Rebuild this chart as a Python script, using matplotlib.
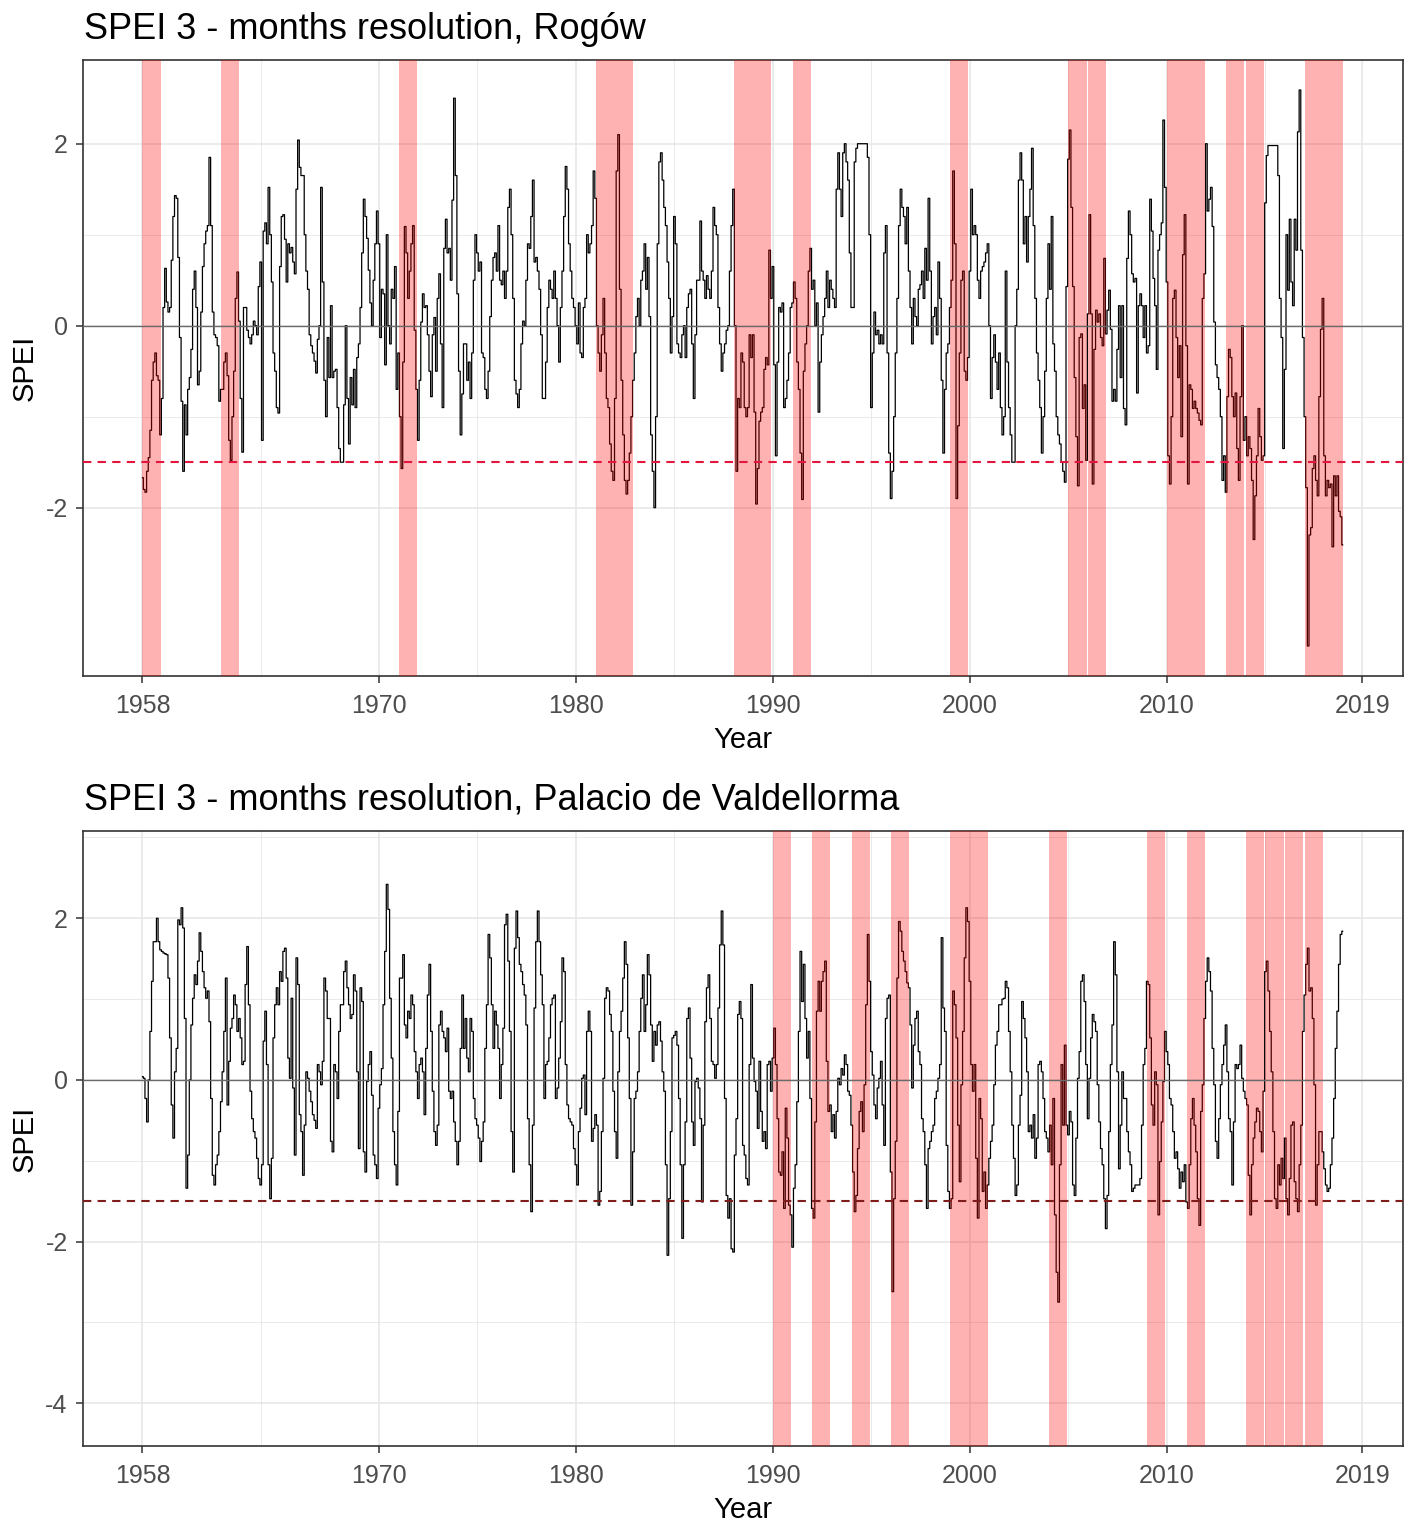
import numpy as np
import matplotlib
matplotlib.use("Agg")
import matplotlib.pyplot as plt

# monthly SPEI-3 values, Jan 1958 .. Dec 2018
start_year = 1958

rogow_spei = [
    -1.67, -1.8, -1.83, -1.6, -1.45, -1.15, -0.6, -0.4, -0.3, -0.55, -0.6, -1.2,
    -0.8, 0.2, 0.63, 0.26, 0.15, 0.2, 0.72, 1.2, 1.43, 1.4, 0.75, -0.13,
    -0.83, -1.6, -0.87, -1.2, -0.7, -0.57, -0.26, 0.4, 0.6, 0.2, -0.65, -0.5,
    0.15, 0.65, 0.9, 1.04, 1.1, 1.85, 1.1, 0.15, -0.1, -0.13, -0.22, -0.83,
    -0.7, -0.7, -0.4, -0.3, -0.55, -1.26, -1.48, -1.0, -0.5, 0.3, 0.59, 0.05,
    -0.8, -1.39, 0.2, 0.2, -0.05, -0.13, -0.2, -0.1, 0.05, 0.0, -0.1, 0.43,
    0.7, -1.26, 1.04, 1.13, 0.9, 1.52, 1.0, 0.48, -0.3, -0.5, -0.9, -0.96,
    0.65, 1.2, 1.22, 0.95, 0.48, 0.9, 0.8, 0.86, 0.7, 0.57, 1.5, 2.04,
    1.74, 1.65, 1.65, 1.0, 0.6, 0.4, -0.1, -0.22, -0.3, -0.39, -0.52, -0.15,
    0.0, 1.52, 0.48, -0.6, -1.0, -0.13, -0.57, 0.22, -0.57, -0.5, -0.48, -0.9,
    -1.35, -1.5, -1.5, -0.87, 0.0, -0.8, -1.3, -0.57, -0.87, -0.48, -0.9, -0.35,
    -0.2, 0.2, 0.8, 1.39, 1.2, 0.96, 0.61, 0.25, 0.0, 0.5, 0.9, 1.26,
    0.9, -0.13, 0.4, 0.35, -0.43, 1.0, 0.0, -0.2, 0.4, 0.3, 0.65, -0.7,
    -0.3, -1.0, -1.57, -0.4, 1.09, 0.8, 0.3, 0.6, 0.9, 1.1, -0.05, -0.7,
    -1.26, -0.6, 0.04, 0.35, 0.2, 0.22, -0.1, -0.5, -0.78, -0.1, 0.09, -0.5,
    0.3, 0.57, -0.2, -0.9, 0.85, 1.17, 0.8, 0.85, 0.5, 1.38, 2.5, 1.65,
    0.35, -0.5, -1.2, -0.75, -0.2, -0.2, -0.6, -0.4, -0.8, -0.3, 0.5, 1.0,
    0.8, 0.6, 0.7, -0.3, -0.35, -0.7, -0.8, -0.5, 0.1, 0.5, 0.75, 0.8,
    0.6, 1.1, 0.5, 0.45, 0.6, 0.3, 0.6, 1.3, 1.5, 1.0, 0.3, -0.6,
    -0.75, -0.9, -0.7, -0.2, 0.05, 0.0, 0.5, 0.9, 0.85, 1.2, 1.6, 0.7,
    0.75, 0.6, 0.4, -0.1, -0.8, -0.8, -0.4, 0.2, 0.5, 0.4, 0.3, 0.6, 0.3,
    0.0, -0.4, 0.2, 0.6, 1.2, 1.75, 1.5, 0.9, 0.6, 0.3, 0.2, 0.0,
    -0.2, 0.25, -0.3, -0.35, 0.2, 0.3, 1.0, 0.8, 0.9, 1.1, 1.7, 1.4,
    0.0, -0.3, -0.5, -0.1, 0.3, -0.3, -0.8, -0.9, -1.3, -1.6, -1.7, -0.8,
    1.7, 2.1, 0.4, -0.6, -1.2, -1.7, -1.85, -1.7, -1.4, -1.0, -0.6, -0.3,
    0.1, 0.3, 0.0, 0.5, 0.6, 0.9, 0.4, 0.75, 0.1, -1.2, -1.6, -2.0,
    -1.0, 0.9, 1.8, 1.9, 1.6, 1.3, 1.1, 0.7, 0.3, -0.3, 0.1, 1.2,
    0.9, -0.2, -0.3, -0.35, -0.1, 0.0, -0.35, 0.2, 0.35, 0.4, -0.2, -0.8, -0.1,
    0.5, 0.5, 1.15, 0.6, 0.5, 0.3, 0.55, 0.4, 0.3, 0.6, 1.3, 1.1,
    1.0, 0.2, -0.2, -0.5, -0.3, -0.2, -0.05, 0.0, 0.6, 1.1, 1.5, 0.0,
    -1.6, -0.8, -0.9, -0.3, -0.4, -0.9, -1.0, -0.9,
    -0.1, -0.35, -0.1, -0.95, -1.96, -1.57, -1.05, -0.95, -0.9, -0.48, -0.35, -0.43,
    0.83, 0.3, 0.65, -0.43, -1.43, -0.4, 0.2, 0.15, 0.25, -0.9, -0.8, -0.6,
    -0.3, 0.2, 0.25, 0.48, 0.3, -0.4, -0.7, -1.4, -1.91, -0.5, -0.2, 0.0,
    0.6, 0.85, 0.4, 0.5, 0.0, 0.25, -0.95, -0.4, -0.1, 0.1, 0.3, 0.6,
    0.2, 0.5, 0.4, 0.3, 0.2, 1.5, 1.9, 1.5, 1.2, 1.9, 2.0, 1.8,
    1.6, 0.8, 0.2, 0.2, 1.8, 1.95, 2.0, 2.0, 2.0, 2.0, 2.0, 2.0, 1.85,
    1.0, -0.9, -0.3, 0.15, -0.1, -0.05, -0.2, -0.1, -0.2, 0.8, 1.1, -0.3,
    -1.4, -1.9, -1.6, -1.0, -0.3, 0.3, 1.1, 1.5, 1.3, 1.2, 0.9, 1.3,
    0.6, 0.2, -0.2, 0.3, 0.1, 0.0, 0.4, 0.45, 0.6, 0.3, 0.85, 0.5,
    1.4, 0.6, -0.2, 0.1, 0.2, -0.1, 0.7, 0.3, -0.6, -1.4, -0.7, -0.3,
    -0.2, 0.2, 0.5, 1.7, 0.9, -1.9, -1.1, -0.3, 0.5, 0.6, -0.5, -0.6,
    -0.35, 0.6, 1.5, 1.0, 1.1, 1.0, 0.5, 0.3, 0.6, 0.65, 0.7, 0.8, 0.9,
    0.0, -0.8, -0.35, -0.1, -0.4, -0.7, -0.3, -0.9, -1.2, -1.0, 0.6, -0.4,
    -0.9, -1.2, -1.5, -1.5, 0.0, 0.4, 1.6, 1.9, 1.6, 0.9, 1.2, 0.7,
    1.2, 1.5, 1.95, 1.1, 0.3, -0.3, -0.6, -0.9, -1.4, -1.0, -0.5, 0.3,
    0.9, 0.4, 1.2, -0.2, -0.5, -1.0, -1.2, -1.3, -1.5, -1.6,
    -1.72, 0.43, 1.83, 2.15, 1.30, 0.43, -0.57, -1.22, -1.76, -0.13, -0.09, -0.91,
    -0.65, -1.48, 0.13, 1.22, 0.13, -1.74, -0.26, 0.17, 0.04, 0.13, -0.13, -0.22,
    0.74, -0.09, 0.17, 0.39, -0.04, -0.83, -0.70, -0.83, -0.26, 0.22, -0.57, 0.22,
    -0.91, -1.09, 0.74, 1.26, 1.00, 0.57, 0.48, 0.52, -0.74, 0.22, 0.35, 0.22,
    -0.13, 0.22, -0.30, -0.22, 1.39, 1.04, 0.52, 0.22, -0.48, 0.83, 1.00, 1.13,
    2.26, 1.52, 0.48, -1.43, -1.74, -1.00, 0.30, 0.39, -0.13, -0.57, -0.22, -1.22,
    0.78, 1.22, -0.22, -1.74, -0.65, -0.70, -0.91, -0.83, -0.91, -0.96, -1.04, -1.09,
    0.30, 0.57, 2.00, 1.26, 1.39, 1.52, 1.09, 0.04, -0.43, -0.57, -0.70, -1.00,
    -1.70, -1.43, -1.83, -0.78, -0.26, -0.35, -0.78, -1.00, -0.74, -1.35, -1.70, -0.78,
    0.00, -1.26, -1.00, -1.43, -1.22, -1.35, -1.70, -2.35, -1.87, -1.43, -0.91, -1.22,
    -1.48, -1.43, 1.35, 1.87, 1.98, 1.98, 1.98, 1.98, 1.98, 1.98, 1.65, 0.30, -0.13,
    -1.35, -0.48, 1.00, 0.39, 1.17, 0.48, 0.22, 1.17, 0.83, 2.13, 2.59, 0.83,
    -0.13, -1.00, -1.78, -3.52, -2.30, -2.22, -1.57, -1.43, -1.70, -1.87, -0.78, -0.04,
    0.30, -1.43, -1.87, -1.70, -1.78, -1.74, -2.43, -1.65, -1.87, -1.65, -2.04, -2.10, -2.41,
]

valdellorma_spei = [
    0.04, 0.02, -0.23, -0.52, 0.00, 0.60, 1.22, 1.71, 1.71, 2.00, 1.71, 1.61,
    1.59, 1.57, 1.56, 1.55, 1.26, 0.52, -0.31, -0.72, 0.10, 0.39, 1.98, 1.92,
    2.13, 1.88, 0.76, -1.34, -0.93, 0.00, 0.68, 1.01, 1.30, 1.18, 1.47, 1.82,
    1.59, 1.34, 1.14, 1.01, 1.10, 0.72, -0.23, -1.18, -1.30, -1.05, -0.93, -0.64,
    -0.27, 0.10, 0.60, 1.26, -0.31, 0.23, 0.64, 0.76, 1.05, 0.93, 0.60, 0.76,
    0.52, 0.19, 0.23, 1.18, 1.65, 0.93, -0.14, -0.48, -0.64, -0.72, -0.97, -1.22,
    -1.30, -1.05, 0.48, 0.85, 0.19, -1.05, -1.47, -0.97, 0.52, 0.93, 1.14, 0.93,
    1.34, 1.22, 1.59, 1.63, 1.26, 0.27, 0.02, 1.01, -0.10, -0.93, 1.51, 1.18,
    -0.43, -0.64, -1.18, -0.56, 0.10, 0.02, -0.14, -0.27, -0.43, -0.50, -0.60, 0.19,
    0.10, -0.06, 0.23, 1.26, 1.10, 0.76, 0.76, -0.76, -0.89, 0.19, 0.10, -0.23,
    0.60, 0.93, 0.93, 1.34, 1.47, 1.14, 0.93, 0.76, 0.81, 1.30, 1.10, 0.10,
    -0.85, 1.14, 0.97, -0.89, -1.14, -0.02, 0.19, 0.35, -0.19, -0.93, -1.05, -1.22,
    -0.35, -0.06, 0.14, 0.93, 1.59, 2.42, 2.11, 1.01, 0.27, -0.64, -1.05, -1.30,
    -0.39, 1.26, 1.26, 1.55, 0.68, 0.52, 0.85, 0.76, 1.05, 0.93, 0.35, 0.10,
    -0.23, 0.19, 0.27, 0.10, -0.43, 0.39, 1.05, 1.43, 0.60, -0.14, -0.64, -0.81,
    -0.56, 0.68, 0.85, 0.60, 0.52, 0.35,
    0.64, -0.14, -0.23, -0.14, -0.52, -0.76, -1.05, -0.76, 0.39, 1.05, 0.39, 0.76,
    0.27, 0.10, 0.76, 0.60, -0.23, -0.48, -0.56, -0.72, -1.01, -0.76, -0.52, 0.39,
    0.93, 1.80, 1.51, 0.93, 0.39, 0.85, 0.68, 0.39, -0.23, 0.19, 0.64, 1.92,
    2.05, 1.47, 0.60, -0.64, -1.14, 1.63, 2.09, 1.76, 1.43, 1.34, 1.18, 1.05,
    0.68, -0.48, -1.05, -1.63, -0.56, 0.89, 1.71, 2.09, 1.71, 1.30, 0.93, -0.23, 0.19,
    0.23, 0.52, 0.93, 1.01, 1.05, -0.23, -0.10, 0.27, 0.72, 1.51, 1.34, 0.19,
    -0.31, -0.48, -0.52, -0.56, -0.85, -1.05, -1.30, -0.64, -0.35, 0.02, 0.06, -0.43,
    0.60, 0.85, 0.60, -0.76, -0.60, -0.43, -0.56, -1.55, -1.38, -0.64, 0.02, 1.01,
    1.14, 1.10, 0.81, 0.60, -0.14, -0.64, -0.97, 0.10, 0.60, 0.85, 1.26, 1.71,
    1.43, 0.52, -0.23, -1.55, -0.89, -0.23, -0.14, 0.10, 0.60, 1.01, 1.30, 0.60,
    0.93, 1.55, 1.30, 0.68, 0.23, 0.60, 0.43, 0.68, 0.72, 0.48, 0.10, -0.14,
    -1.05, -2.17, -1.47, -0.64, 0.52, 0.55, 0.60, 0.43, -0.23, -1.05, -1.96, -1.05, -0.52,
    0.76, 0.89, 0.27, -0.52, -0.81, -0.02, 0.02, -0.10, -0.48, -1.51, -0.56, 0.72,
    1.14, 1.30, 0.76, 0.23, 0.19, 0.02, 0.19, 0.89, 1.67, 2.09, 1.67, -0.23,
    -1.43, -1.71, -1.47, -2.09, -2.13, -0.93, -0.48, 0.81, 0.97, 0.76, -0.81, -0.93,
    -1.22, -1.30, 0.19, 1.18, 0.27, -0.02,
    -0.14, -0.60, 0.23, -0.39, -0.76, -0.64, -0.85, 0.19, 0.23, -0.14, 0.27, 0.64,
    0.19, -0.48, -1.14, -1.18, -0.89, -1.59, -0.35, -0.72, -1.55, -1.67, -2.07, -1.34,
    -1.05, -0.27, 0.60, 1.59, 0.97, 1.43, 0.76, 0.27, 0.60, -0.23, -1.59, -1.71,
    -0.52, 0.85, 1.22, 0.85, 1.22, 1.34, 1.47, 0.23, -0.39, -0.31, -0.64, -0.43,
    -0.72, -0.39, 0.02, -0.06, 0.14, 0.06, 0.31, 0.19, -0.14, -0.19, -0.56, -1.14,
    -1.63, -1.43, -0.85, -0.39, -0.27, -0.64, -0.06, 0.93, 1.80, 1.22, 0.35, 0.06,
    -0.31, -0.48, -0.10, 0.02, 0.23, -0.31, -0.81, 0.76, 1.01, 1.05, -1.14, -2.62,
    -1.47, -0.76, 1.26, 1.96, 1.84, 1.59, 1.47, 1.34, 1.20, 1.14, 0.68, -0.10, 0.43,
    0.76, 0.85, 0.35, 0.19, -0.48, -0.64, -1.05, -1.59, -0.85, -0.76, -0.64, -0.56,
    -0.23, -0.14, 0.02, 0.19, 1.76, 0.89, 0.60, -0.81, -1.38, -1.59, -1.47, 1.10,
    0.93, 0.52, -0.56, -1.26, -0.06, 0.60, 1.51, 2.13, 1.96, 1.22, 0.19, -0.14,
    0.19, -0.97, -1.71, -0.23, -0.48, -1.38, -1.14, -1.59, -1.30, -0.97, -0.76, -0.56,
    -0.06, 0.43, 0.60, 0.93, 0.93, 1.00, 1.01, 1.22, 1.14, 0.60, 0.10, -0.56, -0.97,
    -1.43, -1.30, -0.56, -0.19, 0.97, 0.76, 0.52, 0.10, -0.64, -0.56, -0.72, -0.43,
    -0.97, -0.72, 0.19, 0.23, 0.10, -0.23, -0.64, -0.72, -0.89, -0.56, -1.05, -0.23,
    -1.67, -2.38, -2.75, -1.05, 0.19, -0.56,
    0.43, -0.56, -0.68, -0.39, -0.52, -1.30, -1.43, -0.72, 0.02, 0.35, 1.22, 1.30,
    0.97, 0.19, -0.48, 0.02, 0.52, 0.81, 0.72, 0.60, -0.06, -0.52, -0.85, -1.05,
    -1.47, -1.84, -1.43, -0.64, 0.19, 0.68, 1.71, 1.30, 0.10, -1.10, -0.56, 0.10,
    -0.23, -0.23, -0.64, -0.89, -1.05, -1.38, -1.34, -1.30, -1.30, -1.30, -1.22, -0.56, 0.19,
    0.39, 1.22, 1.18, 0.52, -0.31, -0.56, 0.10, -0.06, -1.67, -1.01, -0.52, -0.02,
    0.60, 0.35, 0.19, -0.23, -0.31, -0.64, -0.97, -0.89, -1.10, -1.34, -1.14, -1.26,
    -1.05, -1.51, -1.59, -1.05, -0.48, -0.23, -0.56, -0.89, -1.47, -1.80, -0.39, -0.06,
    0.76, 1.22, 1.51, 1.34, 1.10, 0.39, -0.06, -0.76, -0.97, -0.48, -0.06, 0.19,
    0.43, 0.68, 0.10, -0.48, -0.64, -1.30, -0.52, 0.19, 0.14, 0.19, 0.43, 0.02,
    -0.14, -0.23, -0.31, -1.18, -1.67, -1.05, -0.72, -0.52, -0.35, -0.39, -0.64, -0.89,
    -0.14, 1.34, 1.47, 1.10, 0.60, 0.10, -0.64, -1.47, -1.59, -1.05, -1.30, -0.97,
    -1.22, -0.72, -1.47, -1.67, -1.22, -0.56, -0.52, -1.26, -1.47, -1.63, -1.05, -0.56,
    0.60, 1.05, 1.43, 1.63, 1.10, 1.14, 0.76, -0.06, -1.55, -1.05, -0.64, -0.64,
    -0.89, -1.10, -1.30, -1.38, -1.34, -1.05, -0.72, -0.23, 0.39, 0.85, 1.43, 1.80, 1.84,
]

# drought periods (first year, last year), shaded Jan..Dec
rogow_droughts = [(1958, 1958), (1962, 1962), (1971, 1971), (1981, 1982),
                  (1988, 1989), (1991, 1991), (1999, 1999), (2005, 2005),
                  (2006, 2006), (2010, 2011), (2013, 2013), (2014, 2014),
                  (2017, 2018)]
valdellorma_droughts = [(1990, 1990), (1992, 1992), (1994, 1994), (1996, 1996),
                        (1999, 2000), (2004, 2004), (2009, 2009), (2011, 2011),
                        (2014, 2014), (2015, 2015), (2016, 2016), (2017, 2017)]

year_breaks = [1958, 1970, 1980, 1990, 2000, 2010, 2019.92]
year_labels = ["1958", "1970", "1980", "1990", "2000", "2010", "2019"]
threshold = -1.5

plt.rcParams['font.family'] = ['Liberation Sans', 'DejaVu Sans']
plt.rcParams['axes.unicode_minus'] = False

W, H = 1417, 1531
fig = plt.figure(figsize=(W / 100, H / 100), dpi=100)


def draw_panel(top, bottom, values, droughts, ylim, yticks, dash_color, title):
    ax = fig.add_axes([83 / W, 1 - bottom / H, (1403 - 83) / W, (bottom - top) / H])
    t = start_year + np.arange(len(values)) / 12
    ax.plot(t, values, color='black', lw=0.9, drawstyle='steps-mid', zorder=2)
    for a, b in droughts:
        ax.axvspan(a, b + 11 / 12, color='red', alpha=0.3, lw=0, zorder=3)
    ax.axhline(0, color='#6a6a6a', lw=1.0, zorder=4)
    ax.axhline(threshold, color=dash_color, lw=1.5, dashes=(4, 3), zorder=4)

    ax.set_xlim(1954.98, 2021.98)
    ax.set_ylim(*ylim)
    ax.set_xticks(year_breaks, year_labels)
    ax.set_yticks(yticks)
    xminor = [(a + b) / 2 for a, b in zip(year_breaks[:-1], year_breaks[1:])]
    ax.set_xticks(xminor, minor=True)
    yminor = [y + 1 for y in yticks]
    ax.set_yticks([y for y in yminor if ylim[0] < y < ylim[1]], minor=True)
    ax.grid(which='major', color='#e6e6e6', lw=1.1)
    ax.grid(which='minor', color='#e6e6e6', lw=0.6)
    ax.set_axisbelow(True)
    ax.tick_params(which='minor', length=0)
    ax.tick_params(which='major', length=5, width=1.1, color='#333333',
                   labelsize=18, labelcolor='#4d4d4d')
    ax.tick_params(axis='x', pad=8)
    ax.tick_params(axis='y', pad=6)
    for s in ax.spines.values():
        s.set_color('#333333')
        s.set_linewidth(1.2)

    fig.text(84 / W, 1 - (top - 21) / H, title, fontsize=26, ha='left', va='baseline')
    fig.text(743 / W, 1 - (bottom + 72) / H, 'Year', fontsize=21, ha='center', va='baseline')
    fig.text(25 / W, 1 - (top + bottom) / 2 / H, 'SPEI', fontsize=21, rotation=90,
             ha='center', va='center')
    return ax


draw_panel(60, 676, rogow_spei, rogow_droughts, (-3.85, 2.92), [-2, 0, 2],
           '#e3173e', 'SPEI 3 - months resolution, Rogów')
draw_panel(831, 1446, valdellorma_spei, valdellorma_droughts, (-4.53, 3.08),
           [-4, -2, 0, 2], '#7f1d1d', 'SPEI 3 - months resolution, Palacio de Valdellorma')

fig.savefig('out.png', dpi=100)
